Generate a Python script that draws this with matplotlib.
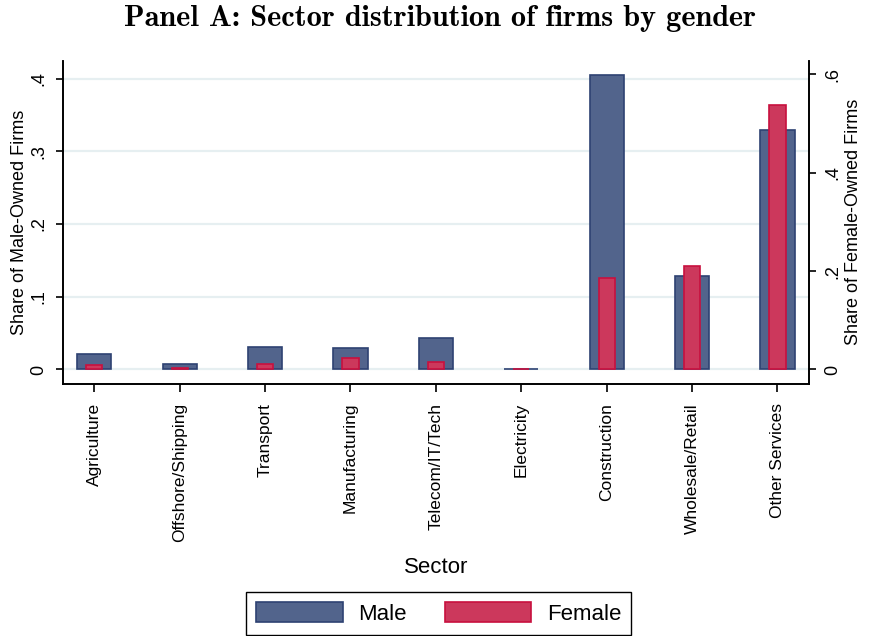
import matplotlib.pyplot as plt
import numpy as np

sectors = ["Agriculture", "Offshore/Shipping", "Transport", "Manufacturing",
           "Telecom/IT/Tech", "Electricity", "Construction", "Wholesale/Retail",
           "Other Services"]
male_share = [0.021, 0.007, 0.031, 0.030, 0.0435, 0.0012, 0.405, 0.128, 0.329]
female_share = [0.009, 0.003, 0.011, 0.0225, 0.015, 0.002, 0.186, 0.210, 0.537]
left_ticks = [0, 0.1, 0.2, 0.3, 0.4]
left_ticklabels = ["0", ".1", ".2", ".3", ".4"]
right_ticks = [0, 0.2, 0.4, 0.6]
right_ticklabels = ["0", ".2", ".4", ".6"]

male_fill, male_edge = "#52648C", "#2E4272"
female_fill, female_edge = "#CC385C", "#C8103E"

plt.rcParams["font.family"] = ["Liberation Sans", "DejaVu Sans"]

fig = plt.figure(figsize=(8.83, 6.36), dpi=100)
ax = fig.add_axes([0.071, 0.397, 0.845, 0.5075])
ax2 = ax.twinx()

x = np.arange(len(sectors))
ax.bar(x, male_share, width=0.4, color=male_fill, edgecolor=male_edge,
       linewidth=1.2, zorder=3, label="Male")
ax2.bar(x, female_share, width=0.19, color=female_fill, edgecolor=female_edge,
        linewidth=1.2, zorder=3, label="Female")

ax.set_xlim(-0.37, 8.367)
ax.set_ylim(-0.0193, 0.4245)
ax2.set_ylim(-0.0285, 0.6276)

for t in left_ticks:
    ax.axhline(t, color="#E6EFF1", linewidth=1.6, zorder=1)

ax.set_yticks(left_ticks)
ax.set_yticklabels(left_ticklabels, rotation=90, va="center", fontsize=13)
ax2.set_yticks(right_ticks)
ax2.set_yticklabels(right_ticklabels, rotation=90, va="center", fontsize=13)
ax.set_xticks(x)
ax.set_xticklabels(sectors, rotation=90, fontsize=12.5)

ax.tick_params(axis="x", length=6, width=1.2, pad=8)
ax.tick_params(axis="y", length=5, width=1.2, pad=6)
ax2.tick_params(axis="y", length=5, width=1.2, pad=6)

for a in (ax, ax2):
    a.spines["top"].set_visible(False)
    for s in ("left", "right", "bottom"):
        a.spines[s].set_linewidth(1.2)

ax.set_ylabel("Share of Male-Owned Firms", fontsize=13, labelpad=2)
ax2.set_ylabel("Share of Female-Owned Firms", fontsize=13, labelpad=3)
ax.set_xlabel("Sector", fontsize=16, labelpad=11)

# bold Computer Modern title (spaces fall back to DejaVu Serif)
fig.suptitle("Panel A: Sector distribution of firms by gender",
             family=["cmb10", "DejaVu Serif"], fontsize=21.8,
             x=0.498, y=0.992, va="top")

h1, l1 = ax.get_legend_handles_labels()
h2, l2 = ax2.get_legend_handles_labels()
leg = fig.legend(h1 + h2, l1 + l2, loc="center", bbox_to_anchor=(0.497, 0.0354),
                 ncol=2, fontsize=16, handlelength=3.9, handleheight=1.0,
                 handletextpad=0.7, columnspacing=1.7, fancybox=False,
                 borderpad=0.45, framealpha=1)
leg.get_frame().set_edgecolor("black")
leg.get_frame().set_linewidth(1.0)

fig.savefig("out.png", dpi=100)
